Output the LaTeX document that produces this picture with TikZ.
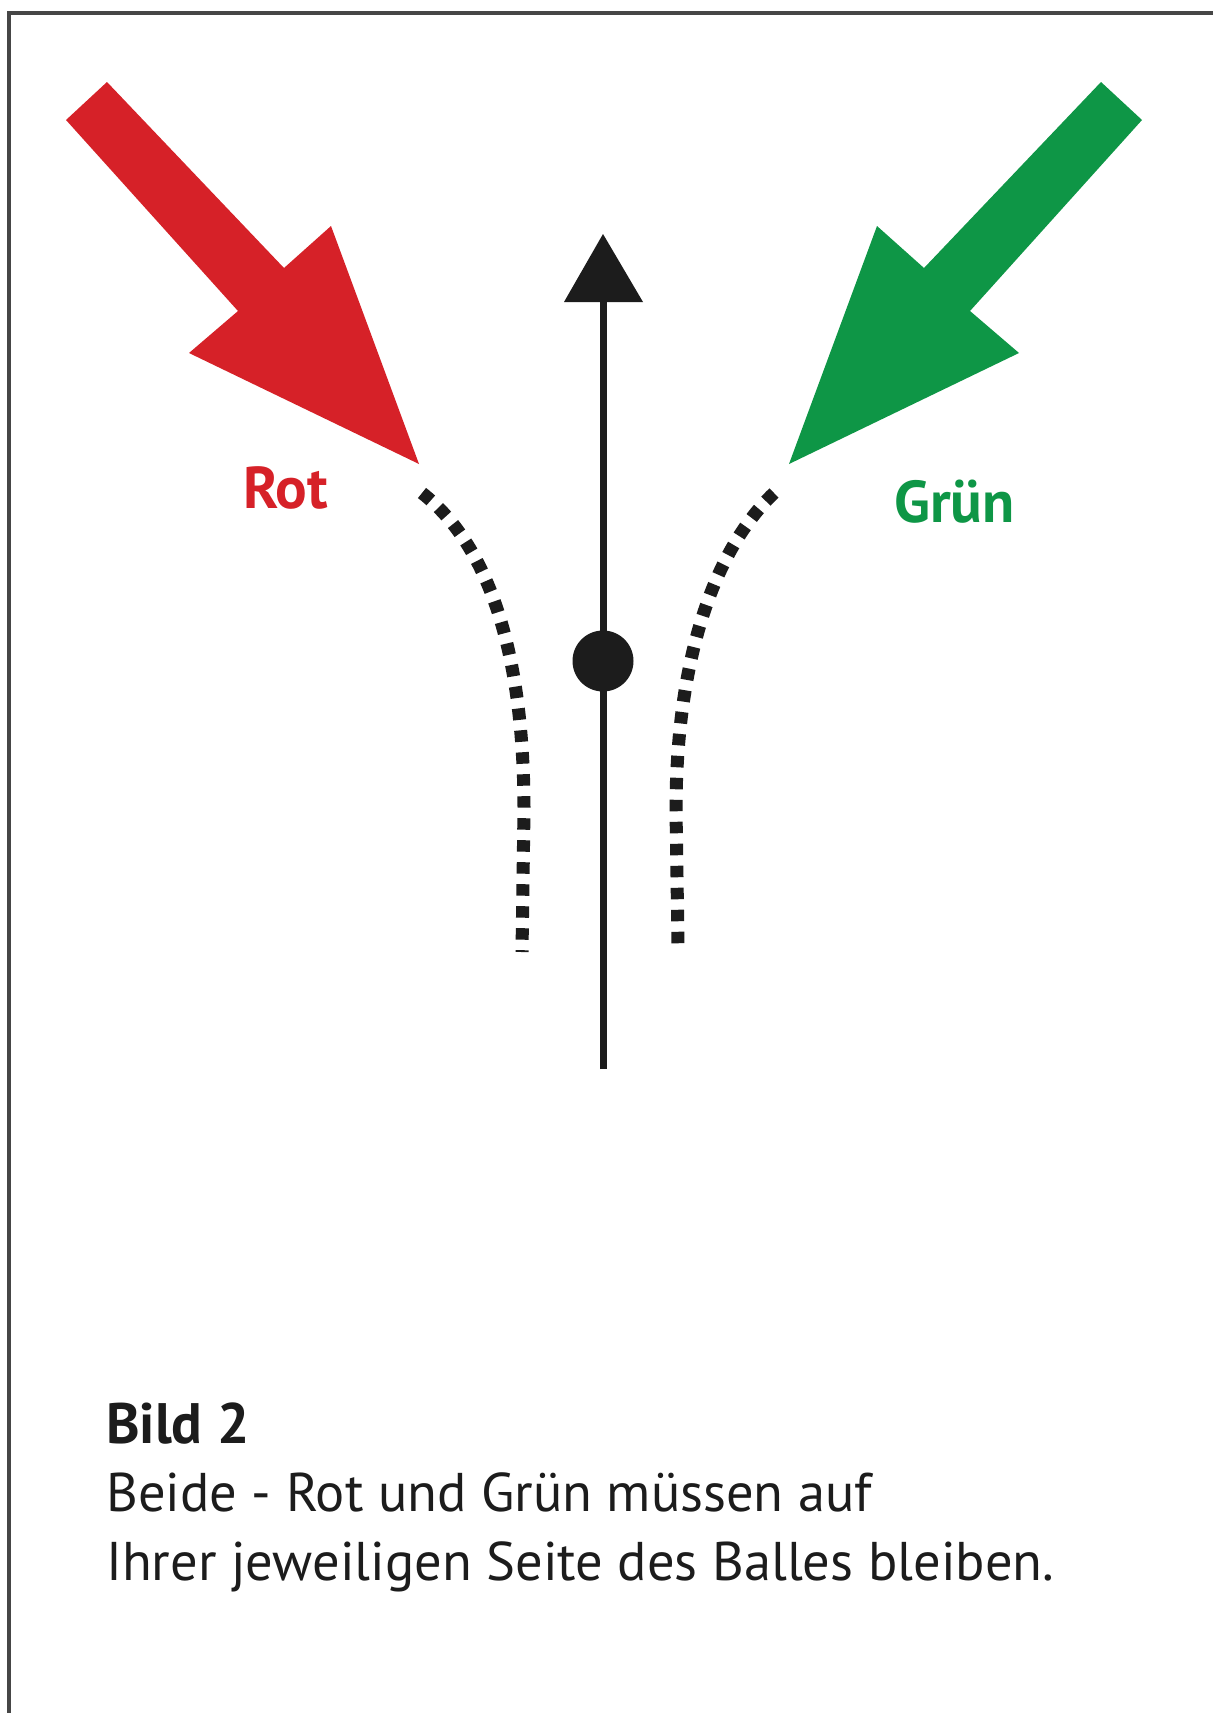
\documentclass[tikz,border=0pt]{standalone}
\usepackage{fontspec}
\setmainfont{PT Sans}
\definecolor{rotc}{RGB}{214,33,40}
\definecolor{gruenc}{RGB}{14,150,70}
\definecolor{inkc}{RGB}{28,28,28}
\definecolor{framec}{RGB}{70,70,70}
\tikzset{
  bigarrow/.style={draw=none},
  dotline/.style={inkc, line width=13pt, dash pattern=on 11.5pt off 10.5pt},
  labeltext/.style={anchor=base west, inner sep=0pt, font=\fontsize{59}{66}\selectfont\bfseries},
  captext/.style={anchor=base west, inner sep=0pt, text=inkc, font=\fontsize{54.5}{60}\selectfont},
  capbold/.style={anchor=base west, inner sep=0pt, text=inkc, font=\fontsize{57}{60}\selectfont\bfseries}
}
\begin{document}
\begin{tikzpicture}[x=1pt,y=-1pt]
\useasboundingbox (0,0) rectangle (1213,1713);
\fill[white] (0,0) rectangle (1213,1713);
% frame
\draw[framec, line width=3.5pt] (9,1713) -- (9,13) -- (1213,13);
% red arrow
\fill[rotc, bigarrow] (107,82) -- (284,268) -- (331,226) -- (419,464) -- (189,353) -- (238,311) -- (66,120) -- cycle;
% green arrow
\fill[gruenc, bigarrow] (1101,82) -- (924,268) -- (877,226) -- (789,464) -- (1019,353) -- (970,311) -- (1142,120) -- cycle;
% labels
\node[labeltext, text=rotc] (rot) at (243,508) {Rot};
\node[labeltext, text=gruenc] (gruen) at (894,522) {Grün};
% central line with ball
\coordinate (bottom) at (603,1069);
\coordinate (headbase) at (603,300);
\draw[inkc, line width=7pt] (bottom) -- (headbase);
\fill[inkc] (564,302) -- (603,234) -- (643,302) -- cycle;
\node[circle, fill=inkc, minimum size=61pt, inner sep=0pt] (ball) at (603,661) {};
% dotted paths
\draw[dotline] (422,493) .. controls (492,548) and (524,660) .. (524,810) -- (522,952);
\draw[dotline] (774,493) .. controls (714,550) and (676,660) .. (676,810) -- (678,944);
% caption
\node[capbold] (cap1) at (106,1443) {Bild 2};
\node[captext] (cap2) at (106,1511) {Beide - Rot und Grün müssen auf};
\node[captext] (cap3) at (106,1580) {Ihrer jeweiligen Seite des Balles bleiben.};
\end{tikzpicture}
\end{document}
